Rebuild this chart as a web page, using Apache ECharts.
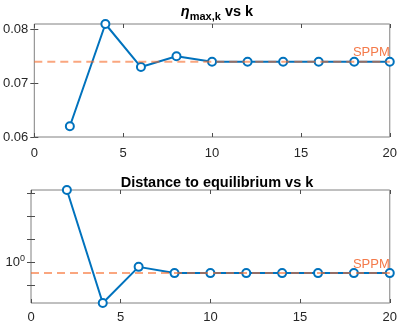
<!DOCTYPE html>
<html>
<head>
<meta charset="utf-8">
<title>eta max and distance vs k</title>
<script src="https://cdn.jsdelivr.net/npm/echarts@6/dist/echarts.min.js"></script>
<style>
  html, body { margin: 0; padding: 0; background: #fff; }
  #chart { width: 400px; height: 324px; }
</style>
</head>
<body>
<div id="chart"></div>
<script>
// data
var kValues = [2, 4, 6, 8, 10, 12, 14, 16, 18, 20];
var etaMax = [0.062, 0.081, 0.073, 0.075, 0.074, 0.074, 0.074, 0.074, 0.074, 0.074];
var distance = [2.07, 0.667, 0.958, 0.90, 0.90, 0.90, 0.90, 0.90, 0.90, 0.90];
var sppmEta = 0.074;
var sppmDist = 0.90;
var xTicks = [0, 5, 10, 15, 20];
var etaTicks = [0.06, 0.07, 0.08];
// log axis ticks (10^-0.1 ... 10^0.3), only 10^0 gets a label
var distTicks = [0.7943, 1, 1.2589, 1.5849, 1.9953];
var distLabels = [1];

var FONT = 'Liberation Sans';
var BLUE = '#0072BD';
var boxColor = '#808080';
var labelColor = '#262626';

function pairs(xs, ys) {
    return xs.map(function (x, i) { return [x, ys[i]]; });
}

var tickStyle = {inside: true, length: 4, lineStyle: {color: '#4d4d4d'}};

// x axis: bottom one with labels, top one only for ticks
function xAxisPair(grid, margin) {
    var base = {
        type: 'value', gridIndex: grid, min: xTicks[0], max: xTicks[xTicks.length - 1], interval: 5,
        axisLine: {show: false}, splitLine: {show: false}, axisTick: tickStyle
    };
    var bottom = Object.assign({}, base, {
        position: 'bottom',
        axisLabel: {color: labelColor, fontFamily: FONT, fontSize: 13, margin: margin}
    });
    var top = Object.assign({}, base, {position: 'top', axisLabel: {show: false}});
    return [bottom, top];
}

var yBase = {axisLine: {show: false}, splitLine: {show: false}};

var etaAxis = {
    type: 'value', min: etaTicks[0], max: Math.max.apply(null, etaMax), interval: 0.01
};
var distAxis = {
    type: 'log', logBase: 10,
    min: Math.min.apply(null, distance), max: Math.max.apply(null, distance)
};

var yAxes = [
    Object.assign({}, yBase, etaAxis, {
        gridIndex: 0, position: 'left',
        axisTick: Object.assign({customValues: etaTicks}, tickStyle),
        axisLabel: {
            customValues: etaTicks, color: labelColor, fontFamily: FONT, fontSize: 13, margin: 6,
            formatter: function (v) { return v.toFixed(2); }
        }
    }),
    Object.assign({}, yBase, etaAxis, {
        gridIndex: 0, position: 'right',
        axisTick: Object.assign({customValues: etaTicks}, tickStyle),
        axisLabel: {show: false}
    }),
    Object.assign({}, yBase, distAxis, {
        gridIndex: 1, position: 'left',
        axisTick: Object.assign({customValues: distTicks}, tickStyle),
        axisLabel: {
            customValues: distLabels, color: labelColor, fontFamily: FONT, fontSize: 13, margin: 6,
            formatter: function () { return '{b|10}{e|0}'; },
            rich: {
                b: {color: labelColor, fontFamily: FONT, fontSize: 13},
                e: {color: labelColor, fontFamily: FONT, fontSize: 9, verticalAlign: 'top', padding: [0, 0, 8, 0]}
            }
        }
    }),
    Object.assign({}, yBase, distAxis, {
        gridIndex: 1, position: 'right',
        axisTick: Object.assign({customValues: distTicks}, tickStyle),
        axisLabel: {show: false}
    })
];

function sppmSeries(xi, yi, value) {
    var x0 = xTicks[0], x1 = xTicks[xTicks.length - 1];
    return {
        type: 'line', xAxisIndex: xi, yAxisIndex: yi, z: 5,
        silent: true, symbol: 'circle', symbolSize: 1, showSymbol: true, animation: false,
        lineStyle: {color: 'rgba(247,107,42,0.6)', width: 2, type: [8, 5]},
        itemStyle: {color: 'rgba(0,0,0,0)', borderWidth: 0},
        labelLayout: {hideOverlap: false},
        data: [
            [x0, value],
            {
                value: [x1, value],
                label: {
                    show: true, position: 'top', align: 'right', distance: 2, offset: [-7, 0],
                    formatter: 'SPPM', color: '#F47A4A', fontFamily: FONT, fontSize: 13
                }
            }
        ]
    };
}

function mainSeries(xi, yi, ys) {
    return {
        type: 'line', xAxisIndex: xi, yAxisIndex: yi, z: 3,
        data: pairs(kValues, ys),
        symbol: 'emptyCircle', symbolSize: 8,
        lineStyle: {color: BLUE, width: 2},
        itemStyle: {color: BLUE, borderColor: BLUE, borderWidth: 1.7},
        clip: false, animation: false
    };
}

var chart = echarts.init(document.getElementById('chart'), null, {renderer: 'canvas'});
chart.setOption({
    backgroundColor: '#fff',
    animation: false,
    title: [
        {
            text: '{eta|η}{sub|max,k}{t| vs k}',
            left: 212, top: -3, textAlign: 'center',
            textStyle: {
                rich: {
                    eta: {fontFamily: FONT, fontStyle: 'italic', fontWeight: 'bold', fontSize: 14.5, color: '#000'},
                    sub: {fontFamily: FONT, fontWeight: 'bold', fontSize: 11, color: '#000', verticalAlign: 'bottom', padding: [9, 0, 0, 0]},
                    t: {fontFamily: FONT, fontWeight: 'bold', fontSize: 14.5, color: '#000'}
                }
            }
        },
        {
            text: 'Distance to equilibrium vs k',
            left: 212, top: 170, textAlign: 'center',
            textStyle: {fontFamily: FONT, fontWeight: 'bold', fontSize: 14.5, color: '#000'}
        }
    ],
    grid: [
        {left: 31, right: 7, top: 24, height: 113, show: true, borderColor: boxColor, borderWidth: 1, backgroundColor: 'transparent'},
        {left: 31, right: 7, top: 190, height: 114, show: true, borderColor: boxColor, borderWidth: 1, backgroundColor: 'transparent'}
    ],
    xAxis: xAxisPair(0, 10).concat(xAxisPair(1, 8)),
    yAxis: yAxes,
    series: [
        mainSeries(0, 0, etaMax),
        sppmSeries(0, 0, sppmEta),
        mainSeries(2, 2, distance),
        sppmSeries(2, 2, sppmDist)
    ]
});
</script>
</body>
</html>
